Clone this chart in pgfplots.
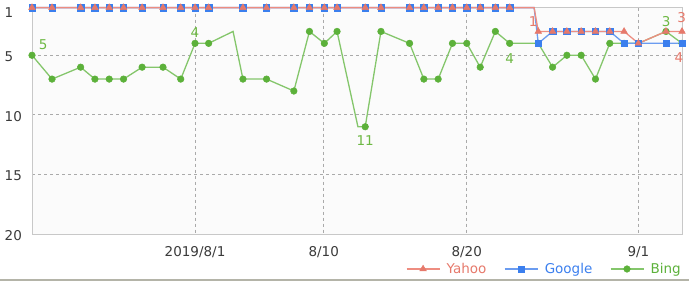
\documentclass[border=0pt]{standalone}
\usepackage{pgfplots}
\pgfplotsset{compat=1.18}
\usepackage{fontspec}
\setmainfont{DejaVu Sans}
\definecolor{yahoo}{HTML}{E6796B}
\definecolor{yahooline}{HTML}{EE8D81}
\definecolor{google}{HTML}{3B7FEE}
\definecolor{googleline}{HTML}{6B9CF0}
\definecolor{bing}{HTML}{5CB13A}
\definecolor{bingline}{HTML}{84C66B}
\definecolor{binglab}{HTML}{6DB843}
\definecolor{tickc}{HTML}{3A3A3A}
\definecolor{gridc}{HTML}{AAAAAA}
\definecolor{framec}{HTML}{C8C8C8}
\definecolor{plotbg}{HTML}{FBFBFB}
\definecolor{bottomc}{HTML}{B4B4A8}

\pgfplotstableread{
x y
-11.4 5
-10 7
-8 6
-7 7
-6 7
-5 7
-3.7 6
-2.24 6
-1 7
0 4
0.95 4
2.66 3
3.35 7
5 7
6.91 8
8 3
9.04 4
9.93 3
11.39 11
11.9 11
13 3
15 4
16 7
17 7
18 4
19 4
19.94 6
21 3
22 4
24 4
25 6
26 5
27 5
28 7
29 4
30 4
31 4
32.93 3
34.05 4
}\bingdata

\pgfplotstableread{
x y
-11.4 1
-10 1
-8 1
-7 1
-6 1
-5 1
-3.7 1
-2.24 1
-1 1
0 1
0.95 1
3.35 1
5 1
6.91 1
8 1
9.04 1
9.93 1
11.9 1
13 1
15 1
16 1
17 1
18 1
19 1
19.94 1
21 1
22 1
23.71 1
24 4
25 3
26 3
27 3
28 3
29 3
30 4
31 4
32.93 4
34.05 4
}\googledata

\pgfplotstableread{
x y
-11.4 1
-10 1
-8 1
-7 1
-6 1
-5 1
-3.7 1
-2.24 1
-1 1
0 1
0.95 1
3.35 1
5 1
6.91 1
8 1
9.04 1
9.93 1
11.9 1
13 1
15 1
16 1
17 1
18 1
19 1
19.94 1
21 1
22 1
23.71 1
24 3
25 3
26 3
27 3
28 3
29 3
30 3
31 4
32.93 3
34.05 3
}\yahoodata

\newcommand{\fs}{\fontsize{13.5}{16}\selectfont}

\begin{document}
\begin{tikzpicture}[x=1pt,y=1pt]
\useasboundingbox (0,0) rectangle (689,281);
\begin{axis}[
  at={(32pt,47pt)}, anchor=south west,
  scale only axis, width=650pt, height=226.4pt,
  clip=false,
  xmin=-11.4, xmax=34.05, ymin=1, ymax=20, y dir=reverse,
  axis background/.style={fill=plotbg},
  axis line style={draw=framec, line width=1pt},
  major tick length=0pt,
  xtick={0,9,19,31}, xticklabels={2019/8/1,8/10,8/20,9/1},
  ytick={5,10,15,20},
  extra y ticks={1},
  extra y tick style={grid=none, yticklabel style={yshift=-3.5pt}},
  grid=major,
  major grid style={draw=gridc, line width=0.8pt, dash pattern=on 3pt off 3pt},
  /pgf/number format/assume math mode=true,
  tick label style={font=\fs, text=tickc},
  xticklabel style={anchor=center, yshift=-17.7pt},
  yticklabel style={anchor=west, inner sep=0pt, xshift=-27.5pt, yshift=-1.5pt},
  legend columns=3, reverse legend,
  legend style={draw=none, fill=none, at={(rel axis cs:1,0)}, anchor=east,
    yshift=-35pt, xshift=-1pt, inner sep=0pt, font=\fs,
    nodes={inner sep=0pt, anchor=west},
    /tikz/every odd column/.append style={column sep=6.5pt},
    /tikz/every even column/.append style={column sep=17.5pt}},
  legend image code/.code={\draw[#1, mark indices={2}] plot coordinates {(0pt,0pt) (16.5pt,0pt) (33pt,0pt)};},
]
\addplot[color=bingline, line width=1.3pt, mark=*, mark size=3.3pt,
  mark options={fill=bing, draw=bing, line width=0.5pt},
  mark indices={1,2,3,4,5,6,7,8,9,10,11,13,14,15,16,17,18,20,21,22,23,24,25,26,27,28,29,30,31,32,33,34,35,36,37,38,39}]
  table[x=x,y=y] {\bingdata};
\addlegendentry{\textcolor{bing}{Bing}}
\addplot[color=googleline, line width=1.3pt, mark=square*, mark size=3.2pt,
  mark options={fill=google, draw=google, line width=0.5pt},
  mark indices={1,2,3,4,5,6,7,8,9,10,11,12,13,14,15,16,17,18,19,20,21,22,23,24,25,26,27,29,30,31,32,33,34,35,36,37,38}]
  table[x=x,y=y] {\googledata};
\addlegendentry{\textcolor{google}{Google}}
\addplot[color=yahooline, line width=1.3pt, mark=triangle*, mark size=3.8pt,
  mark options={fill=yahoo, draw=yahoo, line width=0.5pt},
  mark indices={1,2,3,4,5,6,7,8,9,10,11,12,13,14,15,16,17,18,19,20,21,22,23,24,25,26,27,29,30,31,32,33,34,35,36,37,38}]
  table[x=x,y=y] {\yahoodata};
\addlegendentry{\textcolor{yahoo}{Yahoo}}

\node[font=\fs, text=binglab, inner sep=0pt] at (axis cs:-10.62,4.14) {5};
\node[font=\fs, text=binglab, inner sep=0pt] at (axis cs:0,3.09) {4};
\node[font=\fs, text=binglab, inner sep=0pt] at (axis cs:11.9,12.12) {11};
\node[font=\fs, text=binglab, inner sep=0pt] at (axis cs:22.0,5.27) {4};
\node[font=\fs, text=binglab, inner sep=0pt] at (axis cs:32.95,2.18) {3};
\node[font=\fs, text=yahoo, inner sep=0pt] at (axis cs:23.64,2.18) {1};
\node[font=\fs, text=yahoo, inner sep=0pt] at (axis cs:34.02,1.87) {3};
\node[font=\fs, text=yahoo, inner sep=0pt] at (axis cs:33.84,5.23) {4};
\end{axis}
\draw[draw=bottomc, line width=2pt] (0,1) -- (689,1);
\end{tikzpicture}
\end{document}
